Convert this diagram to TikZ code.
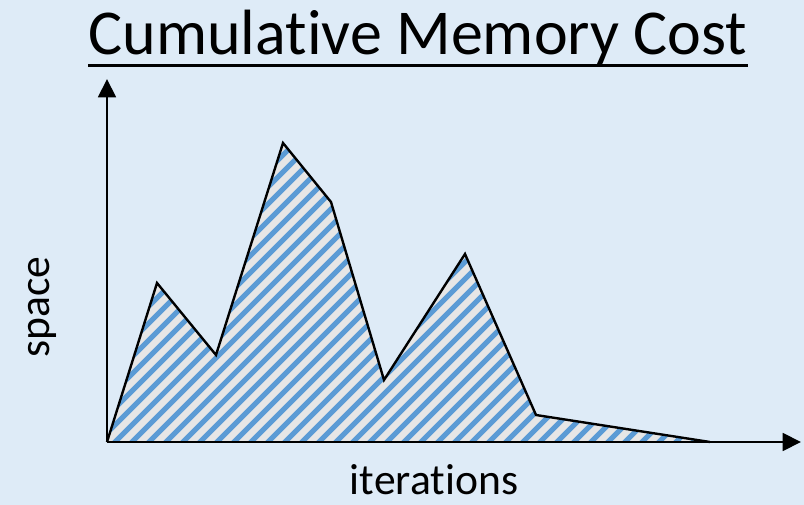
\documentclass[tikz,border=0pt]{standalone}
\usepackage{fontspec}
\setmainfont{Carlito}
\usepackage{xcolor}
\usetikzlibrary{positioning,arrows.meta}
\definecolor{PanelBlue}{HTML}{DEEBF7}
\definecolor{HatchBlue}{HTML}{5B9BD5}
\definecolor{HatchGrey}{HTML}{E6E6E6}
\newcommand\nolig{\kern0pt{}}

\begin{document}
\begin{tikzpicture}[
      x=0.025cm, y=-0.025cm,
      every node/.style={align=center, inner sep=0pt},
      axis/.style={line width=2.1pt, -{Triangle[length=13pt, width=12.5pt]}},
      curve/.style={line width=1.7pt, line join=miter},
      hatch/.style={HatchBlue, line width=3.6pt},
      label/.style={font=\fontsize{31}{36}\selectfont}
    ]
      \fill[PanelBlue] (0,0) rectangle (804,505);
      \useasboundingbox (0,0) rectangle (804,505);

      \coordinate (origin) at (107,442);
      \coordinate (ytop) at (107,79);
      \coordinate (xend) at (801,442);
      \coordinate (p1) at (157,283);
      \coordinate (p2) at (216,355);
      \coordinate (p3) at (283,143);
      \coordinate (p4) at (331,202);
      \coordinate (p5) at (384,380);
      \coordinate (p6) at (465,254);
      \coordinate (p7) at (536,415);
      \coordinate (p8) at (710,442);

      % hatched area under the curve
      \fill[HatchGrey] (origin) -- (p1) -- (p2) -- (p3) -- (p4) -- (p5) -- (p6) -- (p7) -- (p8) -- cycle;
      \begin{scope}
        \clip (origin) -- (p1) -- (p2) -- (p3) -- (p4) -- (p5) -- (p6) -- (p7) -- (p8) -- cycle;
        \foreach \k in {-20,...,38}
          \draw[hatch] (107+\k*17,450) -- ++(330,-330);
      \end{scope}
      \draw[curve] (origin) -- (p1) -- (p2) -- (p3) -- (p4) -- (p5) -- (p6) -- (p7) -- (p8);

      \draw[axis] (origin) -- (ytop);
      \draw[axis] (origin) -- (xend);

      \node[anchor=base, font=\fontsize{45.5}{54}\selectfont] (title) at (418,55) {Cumulat\nolig ive Memory Cost};
      \draw[line width=2pt] ([yshift=-7.5pt]title.base west) -- ([yshift=-7.5pt]title.base east);

      \node[label, anchor=base] (xlabel) at (434,494) {iterat\nolig ions};
      \node[label, anchor=base, rotate=90] (ylabel) at (50,307) {space};
    \end{tikzpicture}
\end{document}
